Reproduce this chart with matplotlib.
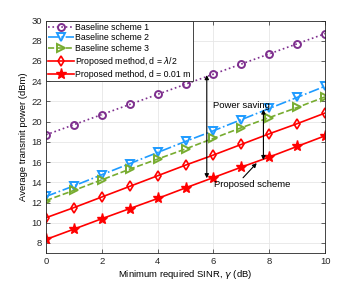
import matplotlib
matplotlib.use("Agg")
import matplotlib.pyplot as plt

sinr = list(range(11))
baseline1 = [18.7, 19.7, 20.7, 21.7, 22.7, 23.7, 24.7, 25.7, 26.7, 27.7, 28.7]
baseline2 = [12.6, 13.65, 14.75, 15.85, 16.95, 18.05, 19.1, 20.2, 21.3, 22.4, 23.5]
baseline3 = [12.2, 13.2, 14.25, 15.3, 16.3, 17.3, 18.35, 19.4, 20.4, 21.4, 22.45]
proposed_half = [10.5, 11.5, 12.55, 13.6, 14.65, 15.7, 16.7, 17.75, 18.8, 19.8, 20.85]
proposed_001 = [8.35, 9.37, 10.4, 11.4, 12.4, 13.45, 14.47, 15.5, 16.5, 17.55, 18.6]

plt.rcParams["font.family"] = ["Liberation Sans", "DejaVu Sans"]
fig = plt.figure(figsize=(3.6, 2.85), dpi=100)
ax = fig.add_axes([0.128, 0.112, 0.775, 0.816])

ax.plot(sinr, baseline1, ":", color="#7E2F8E", marker="o", ms=5, mfc="none", mew=1.4,
        lw=1.2, label="Baseline scheme 1")
ax.plot(sinr, baseline2, "-.", color="#1E9BFF", marker="v", ms=6, mfc="none", mew=1.4,
        lw=1.2, label="Baseline scheme 2")
ax.plot(sinr, baseline3, "--", color="#77AC30", marker=">", ms=6, mfc="none", mew=1.4,
        lw=1.2, label="Baseline scheme 3")
ax.plot(sinr, proposed_half, "-", color="red", marker="d", ms=5.5, mfc="none", mew=1.2,
        lw=1.2, label=r"Proposed method, d = $\lambda$/2")
ax.plot(sinr, proposed_001, "-", color="red", marker="*", ms=8, lw=1.2,
        label="Proposed method, d = 0.01 m")

# annotations
ax.annotate("", xy=(5.76, 24.6), xytext=(5.76, 14.4),
            arrowprops=dict(arrowstyle="<|-|>", color="black", lw=0.8,
                            mutation_scale=6, shrinkA=0, shrinkB=0), zorder=6)
ax.annotate("", xy=(7.79, 21.2), xytext=(7.79, 16.2),
            arrowprops=dict(arrowstyle="<|-|>", color="black", lw=0.8,
                            mutation_scale=6, shrinkA=0, shrinkB=0))
ax.text(6.0, 21.55, "Power saving", fontsize=6.8, va="center")
ax.text(6.02, 13.8, "Proposed scheme", fontsize=6.8, va="center")
ax.annotate("", xy=(7.55, 15.9), xytext=(7.06, 14.45),
            arrowprops=dict(arrowstyle="-|>", color="black", lw=0.8,
                            mutation_scale=6, shrinkA=0, shrinkB=0))

ax.set_xlim(0, 10)
ax.set_ylim(7, 30)
ax.set_xticks(range(0, 11, 2))
ax.set_yticks(range(8, 31, 2))
ax.tick_params(labelsize=6.8, direction="in", length=3, width=0.5, colors="#262626",
               top=True, right=True, pad=3)
ax.grid(True, color="#e6e6e6", lw=0.6)
ax.set_axisbelow(True)
for s in ax.spines.values():
    s.set_linewidth(0.6)
    s.set_color("#262626")
ax.set_xlabel(r"Minimum required SINR, $\gamma$ (dB)", fontsize=6.8, labelpad=1)
ax.set_ylabel("Average transmit power (dBm)", fontsize=6.8, labelpad=2)

leg = ax.legend(loc="upper left", fontsize=6.3, frameon=True, fancybox=False,
                framealpha=1, edgecolor="#262626", borderpad=0.25, labelspacing=0.2,
                handlelength=2.9, handletextpad=0.15, borderaxespad=0)
leg.get_frame().set_linewidth(0.6)

fig.savefig("out.png", dpi=100)
